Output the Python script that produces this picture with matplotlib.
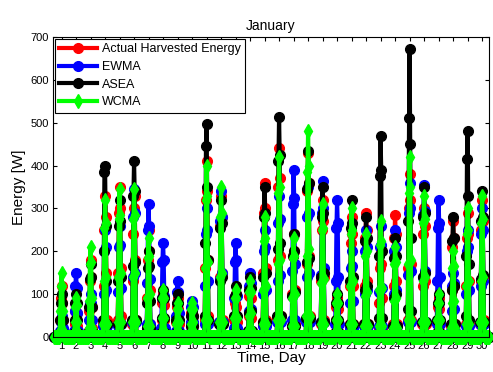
import matplotlib.pyplot as plt

plt.rcParams['font.family'] = ['Liberation Sans', 'DejaVu Sans']

days = list(range(1, 31))
day_hours = [9, 10, 11, 12, 13, 14, 15]   # hours with sunlight, rest of the day is 0

# daytime energy per day (hours 9..15)
actual = [
    [10, 40, 90, 120, 80, 40, 10], [5, 30, 60, 80, 55, 25, 5],
    [15, 60, 130, 180, 140, 70, 20], [30, 120, 250, 330, 280, 150, 40],
    [40, 150, 290, 350, 300, 160, 50], [30, 130, 240, 300, 330, 180, 40],
    [20, 90, 180, 250, 200, 110, 30], [10, 40, 80, 100, 75, 40, 10],
    [10, 35, 70, 90, 65, 30, 10], [5, 25, 55, 70, 50, 25, 5],
    [40, 160, 320, 410, 340, 180, 50], [35, 140, 260, 330, 280, 150, 40],
    [10, 40, 80, 100, 70, 35, 10], [10, 50, 95, 120, 90, 45, 10],
    [35, 150, 290, 360, 300, 160, 40], [45, 180, 350, 440, 370, 190, 50],
    [25, 100, 190, 240, 200, 110, 30], [40, 170, 340, 430, 360, 190, 50],
    [30, 130, 250, 320, 270, 140, 40], [10, 40, 70, 90, 65, 35, 10],
    [30, 120, 220, 280, 240, 120, 30], [30, 120, 230, 290, 250, 130, 30],
    [20, 80, 160, 200, 170, 90, 20], [30, 120, 230, 285, 240, 130, 30],
    [40, 160, 300, 380, 320, 170, 40], [30, 120, 240, 300, 260, 130, 30],
    [10, 35, 70, 90, 65, 30, 10], [25, 110, 210, 270, 230, 120, 30],
    [30, 120, 230, 290, 240, 130, 30], [30, 130, 250, 320, 270, 140, 40],
]
ewma = [
    [5, 15, 35, 50, 40, 20, 5], [15, 60, 120, 150, 115, 55, 15],
    [10, 40, 80, 100, 80, 40, 10], [25, 100, 200, 250, 210, 110, 25],
    [25, 105, 210, 260, 215, 115, 30], [35, 140, 280, 345, 290, 150, 35],
    [30, 125, 250, 310, 260, 135, 30], [20, 90, 175, 220, 180, 95, 20],
    [15, 50, 105, 130, 105, 55, 15], [10, 35, 70, 85, 70, 35, 10],
    [30, 120, 240, 300, 250, 130, 30], [35, 135, 270, 340, 280, 150, 35],
    [20, 90, 175, 220, 180, 95, 20], [15, 60, 120, 150, 125, 65, 15],
    [25, 100, 200, 250, 210, 110, 25], [35, 130, 265, 330, 275, 145, 35],
    [40, 155, 310, 390, 325, 170, 40], [35, 140, 280, 350, 290, 150, 35],
    [35, 145, 290, 365, 300, 160, 35], [30, 130, 255, 320, 265, 140, 30],
    [20, 80, 160, 200, 165, 85, 20], [25, 100, 200, 250, 210, 110, 25],
    [25, 105, 210, 260, 215, 115, 25], [25, 100, 200, 250, 210, 110, 25],
    [35, 145, 290, 360, 300, 155, 35], [35, 140, 285, 355, 295, 155, 35],
    [30, 130, 255, 320, 265, 140, 30], [15, 60, 120, 150, 125, 65, 15],
    [25, 100, 200, 250, 210, 110, 25], [30, 120, 240, 300, 250, 130, 30],
]
asea = [
    [10, 40, 80, 100, 80, 40, 10], [10, 40, 80, 100, 80, 40, 10],
    [15, 70, 135, 170, 140, 70, 15], [40, 200, 385, 400, 260, 130, 30],
    [30, 130, 260, 320, 270, 140, 30], [40, 165, 330, 410, 340, 175, 40],
    [20, 80, 160, 200, 165, 85, 20], [10, 45, 90, 110, 90, 45, 10],
    [10, 40, 80, 100, 80, 40, 10], [5, 25, 50, 60, 50, 25, 5],
    [50, 220, 445, 497, 350, 180, 40], [30, 130, 255, 320, 265, 140, 30],
    [10, 50, 95, 120, 100, 50, 10], [15, 55, 110, 140, 115, 60, 15],
    [35, 140, 280, 350, 290, 150, 35], [50, 205, 410, 513, 425, 220, 50],
    [25, 95, 190, 240, 200, 105, 25], [45, 175, 345, 434, 360, 185, 45],
    [35, 140, 280, 350, 290, 150, 35], [10, 40, 80, 100, 80, 40, 10],
    [30, 130, 255, 320, 265, 140, 30], [30, 110, 225, 280, 230, 120, 30],
    [45, 190, 375, 470, 390, 200, 45], [25, 90, 185, 230, 190, 100, 25],
    [65, 270, 510, 672, 450, 230, 60], [35, 140, 280, 350, 290, 150, 35],
    [10, 40, 80, 100, 80, 40, 10], [30, 110, 225, 280, 230, 120, 30],
    [50, 190, 415, 480, 330, 170, 40], [35, 135, 270, 340, 280, 145, 35],
]
wcma = [
    [15, 60, 120, 150, 120, 60, 15], [10, 35, 70, 90, 75, 35, 10],
    [20, 85, 170, 210, 175, 90, 20], [30, 130, 255, 320, 265, 140, 30],
    [35, 140, 275, 345, 285, 150, 35], [35, 140, 275, 345, 285, 150, 35],
    [25, 90, 185, 230, 190, 100, 25], [10, 45, 90, 110, 90, 45, 10],
    [10, 30, 65, 80, 65, 35, 10], [10, 30, 65, 80, 65, 35, 10],
    [40, 160, 320, 400, 330, 175, 40], [35, 140, 280, 350, 290, 150, 35],
    [10, 45, 90, 110, 90, 45, 10], [15, 50, 105, 130, 105, 55, 15],
    [30, 110, 225, 280, 230, 120, 30], [40, 170, 335, 420, 350, 180, 40],
    [25, 90, 185, 230, 190, 100, 25], [50, 190, 385, 480, 400, 205, 50],
    [30, 125, 250, 310, 255, 135, 30], [10, 40, 80, 100, 80, 40, 10],
    [30, 120, 240, 300, 250, 130, 30], [25, 95, 190, 240, 200, 105, 25],
    [25, 110, 215, 270, 225, 115, 25], [20, 85, 170, 210, 175, 90, 20],
    [40, 170, 335, 420, 350, 180, 40], [35, 130, 265, 330, 275, 140, 35],
    [10, 40, 80, 100, 80, 40, 10], [20, 80, 160, 200, 165, 85, 20],
    [30, 120, 240, 300, 250, 130, 30], [35, 130, 265, 330, 275, 140, 35],
]


def hourly(daily):
    """Turn the per-day daylight values into an hourly series over the month."""
    t, e = [], []
    for d, vals in zip(days, daily):
        for h in range(24):
            t.append(d + (h - 12) / 24)
            e.append(vals[day_hours.index(h)] if h in day_hours else 0)
    return t, e


fig = plt.figure(figsize=(4.93, 3.72), dpi=100)
ax = fig.add_axes([0.1075, 0.094, 0.8845, 0.8065])

series = [
    (actual, 'Actual Harvested Energy', '#ff0000', 'o', 7),
    (ewma, 'EWMA', '#0000ff', 'o', 7),
    (asea, 'ASEA', '#000000', 'o', 7),
    (wcma, 'WCMA', '#00ff00', 'd', 7.5),
]
for daily, name, col, mk, ms in series:
    t, e = hourly(daily)
    ax.plot(t, e, color=col, lw=3, marker=mk, ms=ms, mec=col, mfc=col,
            label=name, clip_on=False)

ax.set_xlim(0.41, 30.48)
ax.set_ylim(0, 700)
ax.set_xticks(days)
ax.set_yticks(range(0, 701, 100))
ax.tick_params(direction='in', top=True, right=True, labelsize=8, length=3, pad=3)
ax.set_title('January', fontsize=10, pad=5)
ax.set_xlabel('Time, Day', fontsize=11, labelpad=0)
ax.set_ylabel('Energy [W]', fontsize=11, labelpad=3)

leg = ax.legend(loc='upper left', fontsize=9, fancybox=False, edgecolor='black',
                framealpha=1, borderpad=0.35, labelspacing=0.45, handlelength=3.0,
                handletextpad=0.4, borderaxespad=0.15)
leg.get_frame().set_linewidth(0.8)

fig.savefig('out.png', dpi=100)
